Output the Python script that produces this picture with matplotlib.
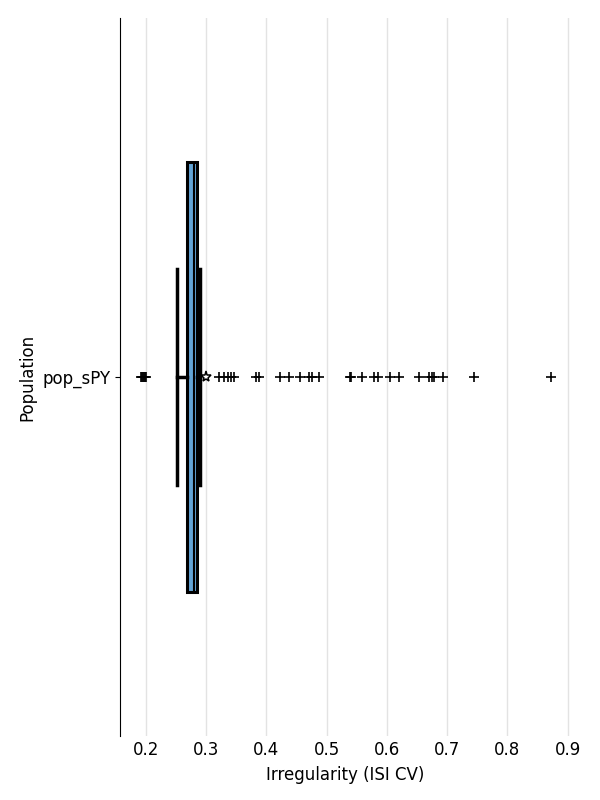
import numpy as np
import matplotlib.pyplot as plt

# values (ISI CV for one population)
population = "pop_sPY"
q1, median, q3 = 0.268, 0.280, 0.285
whisker_low, whisker_high = 0.252, 0.290
mean_cv = 0.300
fliers_low = [0.191, 0.193, 0.195, 0.196, 0.198, 0.200]
fliers_high = [0.322, 0.329, 0.336, 0.342, 0.347,
               0.382, 0.387,
               0.422, 0.438, 0.455, 0.470, 0.475, 0.488,
               0.538, 0.541, 0.558, 0.579, 0.586,
               0.605, 0.620,
               0.653, 0.670, 0.675, 0.678, 0.693,
               0.745, 0.872]
xticks = [0.2, 0.3, 0.4, 0.5, 0.6, 0.7, 0.8, 0.9]

stats = [{
    "label": population,
    "q1": q1, "med": median, "q3": q3,
    "whislo": whisker_low, "whishi": whisker_high,
    "mean": mean_cv,
    "fliers": np.array(fliers_low + fliers_high),
}]

fig, ax = plt.subplots(figsize=(6, 8), dpi=100)
fig.subplots_adjust(left=0.2, right=0.952, top=0.9775, bottom=0.08)

ax.bxp(stats, positions=[1], widths=0.6, vert=False, patch_artist=True,
       showmeans=True,
       boxprops=dict(facecolor="#62a3d5", edgecolor="black", linewidth=2.2),
       medianprops=dict(color="black", linewidth=1.5),
       whiskerprops=dict(color="black", linewidth=2.5),
       capprops=dict(color="black", linewidth=2.5),
       flierprops=dict(marker="+", markersize=7, markeredgecolor="black",
                       markeredgewidth=1.2),
       meanprops=dict(marker="*", markersize=8, markerfacecolor="white",
                      markeredgecolor="black", markeredgewidth=1.1))

ax.set_ylim(0.5, 1.5)
ax.set_xticks(xticks)
ax.margins(x=0.05)
ax.grid(axis="x", color="#e3e3e3", linewidth=1)
ax.set_axisbelow(True)
for side in ["top", "right", "bottom"]:
    ax.spines[side].set_visible(False)
ax.tick_params(axis="x", length=0, labelsize=12, pad=3.5)
ax.tick_params(axis="y", labelsize=12)
ax.set_xlabel("Irregularity (ISI CV)", fontsize=12, labelpad=5)
ax.set_ylabel("Population", fontsize=12)

fig.savefig("out.png")
